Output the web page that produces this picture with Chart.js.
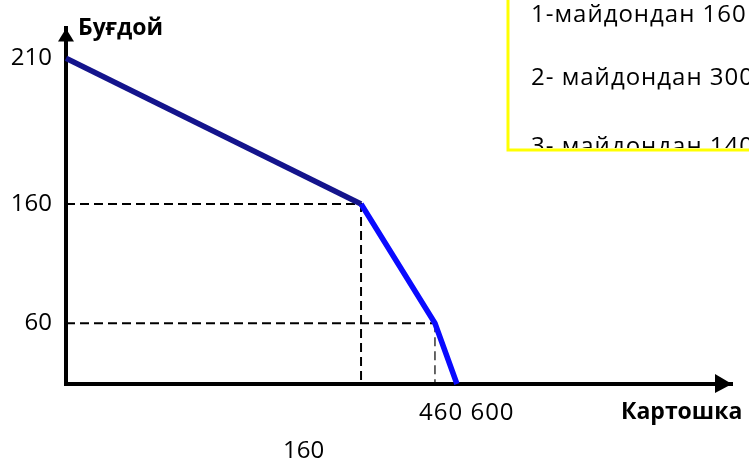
<!DOCTYPE html>
<html>
<head>
<meta charset="utf-8">
<script src="https://cdn.jsdelivr.net/npm/chart.js@4/dist/chart.umd.min.js"></script>
<style>
  html, body { margin: 0; padding: 0; background: #fff; }
  #wrap { width: 749px; height: 463px; position: relative; }
</style>
</head>
<body>
<div id="wrap"><canvas id="ppf"></canvas></div>
<script>
// production possibilities: картошка (x) / буғдой (y)
const potatoes = [0, 160, 460, 600];
const wheat = [210, 160, 60, 0];
const yTickValues = [210, 160, 60];
const xNotes = ["460 600", "160"];
const fieldNotes = ["1-майдондан 160", "2- майдондан 300", "3- майдондан 140"];
const xTitle = "Картошка";
const yTitle = "Буғдой";

// the drawing is not to scale, so axes are stretched piecewise between these breakpoints
const breaks = {
  x: { values: [0, 160, 460, 600, 1000], dec: [0, 0.443, 0.554, 0.587, 1] },
  y: { values: [0, 60, 160, 210, 250], dec: [0, 0.171, 0.506, 0.916, 1] },
};

function interp(v, from, to) {
  if (v <= from[0]) return to[0];
  for (let i = 1; i < from.length; i++) {
    if (v <= from[i]) {
      const t = (v - from[i - 1]) / (from[i] - from[i - 1]);
      return to[i - 1] + t * (to[i] - to[i - 1]);
    }
  }
  return to[to.length - 1];
}

class PiecewiseScale extends Chart.LinearScale {
  getPixelForValue(value) {
    const b = breaks[this.id];
    return this.getPixelForDecimal(interp(value, b.values, b.dec));
  }
  getValueForPixel(pixel) {
    const b = breaks[this.id];
    return interp(this.getDecimalForPixel(pixel), b.dec, b.values);
  }
}
PiecewiseScale.id = "piecewise";
PiecewiseScale.defaults = Chart.LinearScale.defaults;
Chart.register(PiecewiseScale);

const FONT = "'Open Sans', 'DejaVu Sans', sans-serif";

const frontier = potatoes.map((x, i) => ({ x, y: wheat[i] }));
const guide = i => [
  { x: 0, y: wheat[i] },
  { x: potatoes[i], y: wheat[i] },
  { x: potatoes[i], y: 0 },
];

const overlay = {
  id: "overlay",
  afterDraw(chart) {
    const { ctx, chartArea: a } = chart;
    ctx.save();
    ctx.fillStyle = "#000";
    // arrow heads
    ctx.beginPath();
    ctx.moveTo(a.left, a.top);
    ctx.lineTo(a.left - 8, a.top + 13);
    ctx.lineTo(a.left + 8, a.top + 13);
    ctx.closePath();
    ctx.fill();
    ctx.beginPath();
    ctx.moveTo(a.right, a.bottom);
    ctx.lineTo(a.right - 17, a.bottom - 10);
    ctx.lineTo(a.right - 17, a.bottom + 9);
    ctx.closePath();
    ctx.fill();

    // axis titles
    ctx.font = "bold 23px " + FONT;
    ctx.textBaseline = "middle";
    ctx.textAlign = "left";
    ctx.fillText(yTitle, 78, 28);
    ctx.fillText(xTitle, 621, 412);

    // loose numbers under the x axis
    ctx.font = "24px " + FONT;
    ctx.letterSpacing = "1px";
    ctx.fillText(xNotes[0], 419, 413);
    ctx.letterSpacing = "0px";
    ctx.fillText(xNotes[1], 283, 451);

    // yellow note box, cut by the picture edge
    ctx.save();
    ctx.beginPath();
    ctx.rect(509, 0, 240, 148);
    ctx.clip();
    ctx.font = "24px " + FONT;
    ctx.letterSpacing = "1px";
    ctx.textBaseline = "alphabetic";
    [22, 85, 154].forEach((y, i) => ctx.fillText(fieldNotes[i], 531, y));
    ctx.restore();
    ctx.strokeStyle = "#ffff00";
    ctx.lineWidth = 3;
    ctx.beginPath();
    ctx.moveTo(508, 0);
    ctx.lineTo(508, 150);
    ctx.lineTo(749, 150);
    ctx.stroke();
    ctx.restore();
  },
};

new Chart(document.getElementById("ppf"), {
  type: "line",
  data: {
    datasets: [
      {
        data: frontier,
        borderWidth: 5.5,
        borderColor: "#0000ff",
        segment: { borderColor: c => (c.p0DataIndex === 0 ? "#14148c" : "#0a0aff") },
        pointRadius: 0,
        tension: 0,
        clip: false,
      },
      {
        data: guide(1),
        borderColor: "#000",
        borderWidth: 2,
        borderDash: [9, 5],
        pointRadius: 0,
      },
      {
        data: guide(2),
        borderColor: "#000",
        borderWidth: 2,
        borderDash: [9, 5],
        segment: { borderWidth: c => (c.p0DataIndex === 1 ? 1.2 : 2) },
        pointRadius: 0,
      },
    ],
  },
  options: {
    responsive: true,
    maintainAspectRatio: false,
    animation: false,
    layout: { padding: { top: 28, right: 17, left: 0, bottom: 0 } },
    plugins: { legend: { display: false }, tooltip: { enabled: false } },
    scales: {
      x: {
        type: "piecewise",
        min: 0,
        max: 1000,
        grid: { display: false, drawTicks: false },
        border: { color: "#000", width: 4 },
        ticks: { display: false },
        afterFit: s => { s.height = 79; },
      },
      y: {
        type: "piecewise",
        min: 0,
        max: 250,
        grid: { display: false, drawTicks: false },
        border: { color: "#000", width: 4 },
        afterBuildTicks: s => { s.ticks = yTickValues.map(v => ({ value: v })); },
        ticks: { color: "#000", padding: 14, font: { family: FONT, size: 24 } },
        afterFit: s => { s.width = 66; },
      },
    },
  },
  plugins: [overlay],
});
</script>
</body>
</html>
